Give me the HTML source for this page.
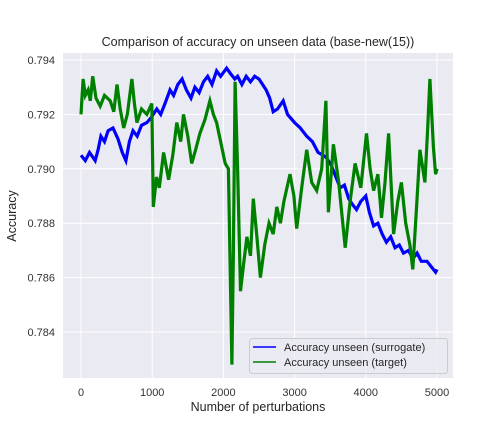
<!DOCTYPE html>
<html><head><meta charset="utf-8"><style>
html,body{margin:0;padding:0;background:#fff;}
svg{display:block;font-family:"Liberation Sans","DejaVu Sans",sans-serif;}
</style></head><body>
<svg id="chart" width="504" height="432" viewBox="0 0 504 432">
<rect x="63" y="53" width="390" height="325" fill="#eaeaf2"/>
<g id="grid"></g>
<g id="series"></g>
<g id="ticks"></g>
<text x="258" y="46" text-anchor="middle" font-size="12.5" fill="#262626">Comparison of accuracy on unseen data (base-new(15))</text>
<text x="258" y="411" text-anchor="middle" font-size="12.5" fill="#262626">Number of perturbations</text>
<text transform="translate(16,216) rotate(-90)" text-anchor="middle" font-size="12.5" fill="#262626">Accuracy</text>
<g>
<rect x="249.5" y="338.5" width="198" height="35" rx="3" fill="#eaeaf2" fill-opacity="0.8" stroke="#cccccc"/>
<line x1="253" y1="347" x2="276" y2="347" stroke="#0000ff" stroke-width="1.6"/>
<text x="284" y="351" font-size="11" fill="#262626">Accuracy unseen (surrogate)</text>
<line x1="253" y1="362" x2="276" y2="362" stroke="#008000" stroke-width="1.6"/>
<text x="284" y="366" font-size="11" fill="#262626">Accuracy unseen (target)</text>
</g>
</svg>
<script>
const xTicks=[0,1000,2000,3000,4000,5000];
const yTicks=[0.784,0.786,0.788,0.790,0.792,0.794];
const surrX=[0,60,120,200,240,280,330,380,450,520,580,630,680,730,790,850,925,990,1065,1120,1180,1250,1300,1360,1420,1480,1545,1600,1660,1720,1780,1840,1905,1960,2045,2100,2160,2200,2260,2320,2380,2440,2500,2550,2600,2650,2700,2760,2840,2900,3000,3080,3170,3250,3330,3400,3450,3520,3580,3640,3700,3760,3810,3870,3930,4000,4050,4110,4170,4230,4290,4350,4410,4470,4530,4600,4660,4720,4780,4860,4920,4980,5000];
const surrY=[0.7905,0.7903,0.7906,0.7903,0.7907,0.7912,0.7910,0.7914,0.7915,0.7911,0.7906,0.7903,0.7910,0.7914,0.7912,0.7916,0.7917,0.7919,0.7922,0.7920,0.7924,0.7929,0.7927,0.7931,0.7933,0.7929,0.7926,0.7930,0.7928,0.7932,0.7934,0.7931,0.7936,0.7934,0.7937,0.7935,0.7933,0.7934,0.7931,0.7934,0.7932,0.7934,0.7933,0.7931,0.7929,0.7926,0.7921,0.7922,0.7925,0.7920,0.7917,0.7915,0.7912,0.7910,0.7906,0.7905,0.7904,0.7901,0.7897,0.7893,0.7894,0.7889,0.7887,0.7885,0.7888,0.7890,0.7884,0.7879,0.7880,0.7876,0.7873,0.7875,0.7871,0.7872,0.7869,0.7870,0.7867,0.7869,0.7866,0.7866,0.7864,0.7862,0.7863];
const targX=[0,30,60,100,130,165,210,270,330,410,460,505,550,600,650,715,750,785,850,925,995,1015,1060,1100,1160,1230,1290,1345,1400,1440,1500,1555,1610,1670,1740,1810,1860,1905,1960,2025,2070,2120,2140,2165,2200,2240,2280,2330,2380,2420,2470,2520,2580,2640,2700,2750,2800,2850,2935,2990,3030,3100,3170,3240,3310,3380,3440,3475,3545,3620,3710,3780,3850,3930,4010,4060,4110,4170,4220,4270,4320,4390,4450,4500,4560,4620,4660,4710,4760,4830,4870,4900,4950,4980,5000];
const targY=[0.7920,0.7933,0.7927,0.7929,0.7925,0.7934,0.7926,0.7923,0.7927,0.7925,0.7921,0.7931,0.7922,0.7915,0.7920,0.7933,0.7924,0.7917,0.7922,0.7920,0.7924,0.7886,0.7897,0.7893,0.7906,0.7896,0.7905,0.7917,0.7910,0.7920,0.7912,0.7902,0.7907,0.7913,0.7918,0.7925,0.7920,0.7917,0.7910,0.7902,0.7900,0.7828,0.7870,0.7932,0.7900,0.7855,0.7864,0.7875,0.7868,0.7889,0.7875,0.7860,0.7872,0.7880,0.7876,0.7886,0.7880,0.7888,0.7898,0.7890,0.7878,0.7893,0.7907,0.7895,0.7892,0.7900,0.7925,0.7884,0.7909,0.7895,0.7871,0.7888,0.7902,0.7893,0.7913,0.7900,0.7892,0.7898,0.7882,0.7895,0.7913,0.7876,0.7888,0.7895,0.7880,0.7872,0.7863,0.7885,0.7907,0.7895,0.7915,0.7933,0.7908,0.7898,0.7900];
const NS="http://www.w3.org/2000/svg";
const xs=v=>81+(v/1000)*71.2;
const ys=v=>60+(0.794-v)/0.001*27.2;
function mk(tag,attrs,parent){const e=document.createElementNS(NS,tag);for(const k in attrs)e.setAttribute(k,attrs[k]);parent.appendChild(e);return e;}
const grid=document.getElementById('grid'),ticks=document.getElementById('ticks'),series=document.getElementById('series');
xTicks.forEach(t=>{
  const l=mk('line',{x1:xs(t),x2:xs(t),y1:53,y2:378,stroke:'#fff','stroke-width':1},grid);
  
  
  const tx=mk('text',{x:xs(t),y:396,'text-anchor':'middle','font-size':11,fill:'#333'},ticks);
  tx.textContent=t;
  
  
});
yTicks.forEach(t=>{
  const l=mk('line',{x1:63,x2:453,y1:ys(t),y2:ys(t),stroke:'#fff','stroke-width':1},grid);
  
  
  const tx=mk('text',{x:55,y:ys(t)+4,'text-anchor':'end','font-size':11,fill:'#333'},ticks);
  tx.textContent=t.toFixed(3);
  
  
});
function line(X,Y,color,name){
  const d=X.map((x,i)=>(i?'L':'M')+xs(x).toFixed(1)+','+ys(Y[i]).toFixed(1)).join('');
  const p=mk('path',{d:d,fill:'none',stroke:color,'stroke-width':3.2,'stroke-linejoin':'miter'},series);
  
  
}
line(surrX,surrY,'#0000ff','surrogate-line');
line(targX,targY,'#008000','target-line');
</script>
</body></html>
